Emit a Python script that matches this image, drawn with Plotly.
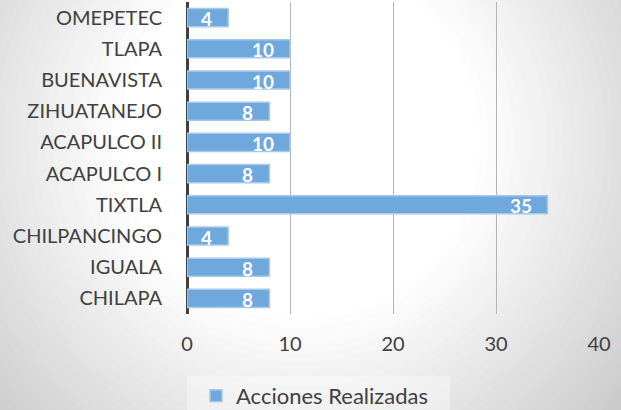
import plotly.graph_objects as go

# Data (top to bottom as shown)
sedes = ["OMEPETEC", "TLAPA", "BUENAVISTA", "ZIHUATANEJO", "ACAPULCO II",
         "ACAPULCO I", "TIXTLA", "CHILPANCINGO", "IGUALA", "CHILAPA"]
acciones = [4, 10, 10, 8, 10, 8, 35, 4, 8, 8]
x_ticks = [0, 10, 20, 30, 40]
serie = "Acciones Realizadas"

W, H = 621, 410
ML, MR, MT, MB = 187, 22, 2, 96
PW, PH = W - ML - MR, H - MT - MB
FONT = "Lato"
TEXT = "#404040"
BAR = "#6fa8dc"


def px_to_paper(px, py):
    return (px - ML) / PW, (H - MB - py) / PH


fig = go.Figure()
fig.add_trace(go.Bar(
    x=acciones, y=sedes, orientation="h", name=serie,
    marker=dict(color=BAR, line=dict(color="#a8c9ea", width=1.5)),
    hoverinfo="x+y",
))

# value labels inside the bar ends
for s, v in zip(sedes, acciones):
    fig.add_annotation(x=v, y=s, text=f"<b>{v}</b>", showarrow=False,
                       xanchor="right", yanchor="middle", xshift=-14, yshift=-1,
                       font=dict(family=FONT, size=19, color="white"))

# radial grey-to-white background (concentric ellipses, largest first)
cx, cy = 300, 140
r_in, r_out = 180, 420
steps = 36
shapes = []
for i in range(steps + 1):
    r = r_out + 60 - i * (r_out + 60 - r_in) / steps
    t = min(max((r - r_in) / (r_out - r_in), 0), 1)
    g = round(255 - 52 * t)
    x0, y1 = px_to_paper(cx - r, cy - r)
    x1, y0 = px_to_paper(cx + r, cy + r)
    shapes.append(dict(type="circle", xref="paper", yref="paper",
                       x0=x0, x1=x1, y0=y0, y1=y1, layer="below",
                       line=dict(width=0), fillcolor=f"rgb({g},{g},{g})"))

# faint legend panel
lx0, ly1 = px_to_paper(187, 376)
lx1, ly0 = px_to_paper(450, 420)
shapes.append(dict(type="rect", xref="paper", yref="paper", x0=lx0, x1=lx1,
                   y0=ly0, y1=ly1, layer="below", line=dict(width=0),
                   fillcolor="rgba(255,255,255,0.35)"))

lgx, lgy = px_to_paper(196, 396)
fig.update_layout(
    width=W, height=H,
    margin=dict(l=ML, r=MR, t=MT, b=MB, autoexpand=False),
    paper_bgcolor="rgb(203,203,203)",
    plot_bgcolor="rgba(0,0,0,0)",
    font=dict(family=FONT, size=20, color=TEXT),
    bargap=0.42,
    shapes=shapes,
    showlegend=True,
    legend=dict(x=lgx, y=lgy, xanchor="left", yanchor="middle",
                orientation="h", bgcolor="rgba(0,0,0,0)", borderwidth=0,
                font=dict(family=FONT, size=22, color=TEXT)),
)
fig.update_xaxes(range=[0, 40], tickvals=x_ticks, showgrid=True,
                 gridcolor="#b3b3b3", gridwidth=1,
                 zeroline=True, zerolinecolor="#404040", zerolinewidth=3,
                 ticks="outside", ticklen=12, tickcolor="rgba(0,0,0,0)",
                 showline=False, tickfont=dict(size=20, color=TEXT))
fig.update_yaxes(autorange="reversed", showgrid=False, zeroline=False,
                 ticks="outside", ticklen=20, tickcolor="rgba(0,0,0,0)",
                 tickfont=dict(size=20, color=TEXT))

fig.write_html("out.html", config={"displayModeBar": False},
               post_script="document.body.style.margin='0';")
